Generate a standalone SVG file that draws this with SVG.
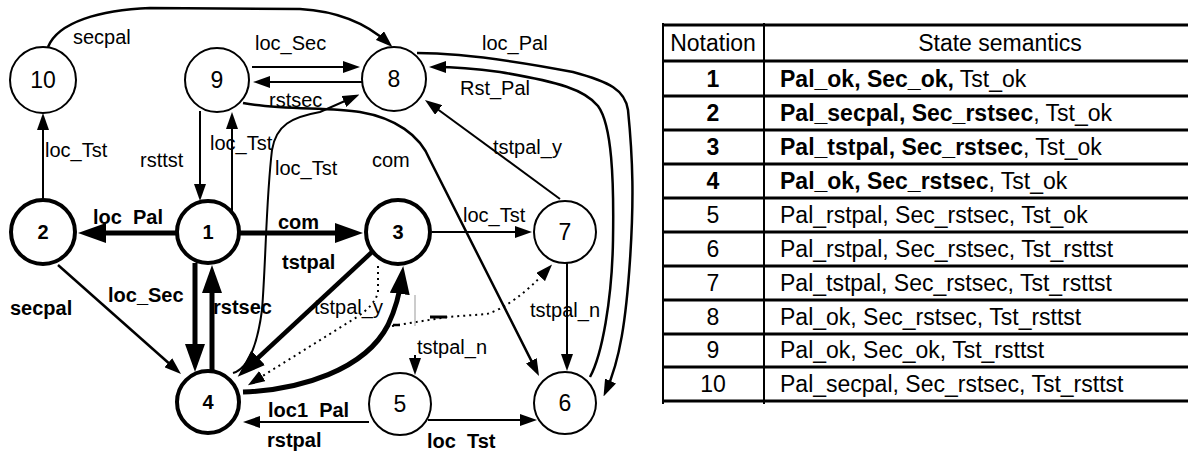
<svg xmlns="http://www.w3.org/2000/svg" width="1188" height="451" viewBox="0 0 1188 451">
<style>
text{font-family:"Liberation Sans",Arial,sans-serif;fill:#000}
.nt{stroke:#000;stroke-width:2;fill:#fff}
.nk{stroke:#000;stroke-width:4;fill:#fff}
.nl{font-size:23px;text-anchor:middle}
.nb{font-size:20px;font-weight:bold;text-anchor:middle}
.e{fill:none;stroke:#000;stroke-width:2}
.e25{fill:none;stroke:#000;stroke-width:2.5}
.ek{fill:none;stroke:#000;stroke-width:5}
.dot{fill:none;stroke:#000;stroke-width:2;stroke-dasharray:2 4}
.lb{font-size:20px}
.lbb{font-size:20px;font-weight:bold}
.tl{stroke:#000;stroke-width:3}
.tv{stroke:#000;stroke-width:2}
.tt{font-size:23px}
.tc{font-size:23px;text-anchor:middle}
</style>
<defs>
<marker id="ah" markerUnits="userSpaceOnUse" markerWidth="17" markerHeight="12" refX="11" refY="6" orient="auto"><path d="M0,0 L17,6 L0,12 z" fill="#000"/></marker>
<marker id="ahT" markerUnits="userSpaceOnUse" markerWidth="28" markerHeight="20" refX="18" refY="10" orient="auto"><path d="M0,0 L28,10 L0,20 z" fill="#000"/></marker>
</defs>
<g id="connectors">
<path class="ek" d="M177 233 L88 233" marker-end="url(#ahT)"/>
<path class="ek" d="M239 233 L353 233" marker-end="url(#ahT)"/>
<path class="ek" d="M195 263 L195 362" marker-end="url(#ahT)"/>
<path class="ek" d="M212 372 L212 275" marker-end="url(#ahT)"/>
<path class="ek" style="stroke-width:4.5" d="M372 252 L245 370" marker-end="url(#ahT)"/>
<path class="ek" d="M243 392 C300 390 365 370 388 325 C396 308 400 292 402 276" marker-end="url(#ahT)"/>
<path class="e25" d="M58 265 L176.5 370" marker-end="url(#ah)"/>
<path class="e" d="M43 200 L43 119" marker-end="url(#ah)"/>
<path class="e" d="M200 111 L200 195" marker-end="url(#ah)"/>
<path class="e" d="M232 212 L232 118" marker-end="url(#ah)"/>
<path class="e" d="M252 67 L354 67" marker-end="url(#ah)"/>
<path class="e" d="M362 82 L259 82" marker-end="url(#ah)"/>
<path class="e" d="M233 373 C250 368 258 340 262 310 C266 260 266 200 272 150 C276 125 292 117 320 112 L354 97" marker-end="url(#ah)"/>
<path class="e25" d="M243 103 C280 110 330 107 360 112 C395 118 420 135 430 160 L536.3 370.6" marker-end="url(#ah)"/>
<path class="e25" d="M48 47 C58 22 100 10 150 8 L300 9 C335 11 365 22 388 43" marker-end="url(#ah)"/>
<path class="e25" d="M417 53 C450 53 500 58 573 72 C610 82 625 90 628 110 C633 160 634 200 630 260 C626 320 620 360 606 391" marker-end="url(#ah)"/>
<path class="e25" d="M590 377 C602 355 612 300 613 240 C614 180 612 125 598 106 C585 90 560 82 500 72 C470 68 450 67 435 67" marker-end="url(#ah)"/>
<path class="e" d="M432 232 L526 232" marker-end="url(#ah)"/>
<path class="e" d="M567 263 L567 365" marker-end="url(#ah)"/>
<path class="e" d="M560 199 L429.8 103.5" marker-end="url(#ah)"/>
<path class="e" d="M428 420 L531 420" marker-end="url(#ah)"/>
<path class="e" d="M369 422 L249 422" marker-end="url(#ah)"/>
<path class="dot" d="M378 266 L378 292 Q375 305 357 317 L253 382" marker-end="url(#ah)"/>
<path class="dot" d="M392 326 L447 317 L487 314 Q515 305 548 269" marker-end="url(#ah)"/>
<path d="M430 317 L447 317" stroke="#000" stroke-width="3"/>
<path d="M393 325 L400 325" stroke="#000" stroke-width="2.5"/>
<path d="M415 295 L415 326" stroke="#999" stroke-width="1"/>
<path class="e" d="M415 355 L415 369" marker-end="url(#ah)"/>
</g>
<g id="edge-labels">
<text class="lb" x="73" y="44">secpal</text>
<text class="lb" x="255" y="50">loc_Sec</text>
<text class="lb" x="269" y="107">rstsec</text>
<text class="lb" x="482" y="50">loc_Pal</text>
<text class="lb" x="460" y="95">Rst_Pal</text>
<text class="lb" x="45" y="157">loc_Tst</text>
<text class="lb" x="140" y="167">rsttst</text>
<text class="lb" x="210" y="150">loc_Tst</text>
<text class="lb" x="275" y="175">loc_Tst</text>
<text class="lb" x="372" y="167">com</text>
<text class="lb" x="493" y="154">tstpal_y</text>
<text class="lbb" x="93" y="224" xml:space="preserve">loc  Pal</text>
<text class="lbb" x="278" y="229">com</text>
<text class="lbb" x="282" y="269">tstpal</text>
<text class="lbb" x="108" y="302">loc_Sec</text>
<text class="lbb" x="213" y="314">rstsec</text>
<text class="lbb" x="10" y="315">secpal</text>
<text class="lb" x="314" y="314">tstpal_y</text>
<text class="lb" x="463" y="222">loc_Tst</text>
<text class="lb" x="530" y="317">tstpal_n</text>
<text class="lb" x="417" y="354">tstpal_n</text>
<text class="lbb" x="268" y="417" xml:space="preserve">loc1  Pal</text>
<text class="lbb" x="267" y="447">rstpal</text>
<text class="lbb" x="427" y="448" xml:space="preserve">loc  Tst</text>
</g>
<g id="node-1"><circle class="nk" cx="208" cy="232" r="31"/><text class="nb" x="208" y="239">1</text></g>
<g id="node-2"><circle class="nk" cx="43" cy="232" r="32"/><text class="nb" x="43" y="239">2</text></g>
<g id="node-3"><circle class="nk" cx="398" cy="232" r="32"/><text class="nb" x="398" y="239">3</text></g>
<g id="node-4"><circle class="nk" cx="208" cy="402" r="31"/><text class="nb" x="208" y="409">4</text></g>
<g id="node-5"><circle class="nt" cx="400" cy="404" r="31"/><text class="nl" x="400" y="412">5</text></g>
<g id="node-6"><circle class="nt" cx="565" cy="403" r="31"/><text class="nl" x="565" y="411">6</text></g>
<g id="node-7"><circle class="nt" cx="565" cy="232" r="31"/><text class="nl" x="565" y="240">7</text></g>
<g id="node-8"><circle class="nt" cx="394" cy="79" r="32"/><text class="nl" x="394" y="87">8</text></g>
<g id="node-9"><circle class="nt" cx="217" cy="80" r="32"/><text class="nl" x="217" y="88">9</text></g>
<g id="node-10"><circle class="nt" cx="43" cy="80" r="33"/><text class="nl" x="43" y="88">10</text></g>
<g id="table">
<line class="tv" x1="663" y1="23" x2="663" y2="404"/>
<line class="tv" x1="764" y1="23" x2="764" y2="404"/>
<line class="tl" x1="662" y1="25" x2="1188" y2="25"/>
<line class="tl" x1="662" y1="61" x2="1188" y2="61"/>
<line class="tl" x1="662" y1="96" x2="1188" y2="96"/>
<line class="tl" x1="662" y1="130" x2="1188" y2="130"/>
<line class="tl" x1="662" y1="164" x2="1188" y2="164"/>
<line class="tl" x1="662" y1="198" x2="1188" y2="198"/>
<line class="tl" x1="662" y1="232" x2="1188" y2="232"/>
<line class="tl" x1="662" y1="266" x2="1188" y2="266"/>
<line class="tl" x1="662" y1="300" x2="1188" y2="300"/>
<line class="tl" x1="662" y1="334" x2="1188" y2="334"/>
<line class="tl" x1="662" y1="367" x2="1188" y2="367"/>
<line class="tl" x1="662" y1="401" x2="1188" y2="401"/>
<text class="tc" x="713" y="51">Notation</text>
<text class="tc" x="1000" y="51">State semantics</text>
<text class="tc" x="713" y="87" font-weight="bold">1</text>
<text class="tt" x="780" y="87"><tspan font-weight="bold">Pal_ok, Sec_ok,</tspan> Tst_ok</text>
<text class="tc" x="713" y="121" font-weight="bold">2</text>
<text class="tt" x="780" y="121"><tspan font-weight="bold">Pal_secpal, Sec_rstsec</tspan>, Tst_ok</text>
<text class="tc" x="713" y="155" font-weight="bold">3</text>
<text class="tt" x="780" y="155"><tspan font-weight="bold">Pal_tstpal, Sec_rstsec</tspan>, Tst_ok</text>
<text class="tc" x="713" y="189" font-weight="bold">4</text>
<text class="tt" x="780" y="189"><tspan font-weight="bold">Pal_ok, Sec_rstsec</tspan>, Tst_ok</text>
<text class="tc" x="713" y="223">5</text>
<text class="tt" x="780" y="223">Pal_rstpal, Sec_rstsec, Tst_ok</text>
<text class="tc" x="713" y="257">6</text>
<text class="tt" x="780" y="257">Pal_rstpal, Sec_rstsec, Tst_rsttst</text>
<text class="tc" x="713" y="291">7</text>
<text class="tt" x="780" y="291">Pal_tstpal, Sec_rstsec, Tst_rsttst</text>
<text class="tc" x="713" y="325">8</text>
<text class="tt" x="780" y="325">Pal_ok, Sec_rstsec, Tst_rsttst</text>
<text class="tc" x="713" y="358">9</text>
<text class="tt" x="780" y="358">Pal_ok, Sec_ok, Tst_rsttst</text>
<text class="tc" x="713" y="392">10</text>
<text class="tt" x="780" y="392">Pal_secpal, Sec_rstsec, Tst_rsttst</text>
</g>
</svg>
